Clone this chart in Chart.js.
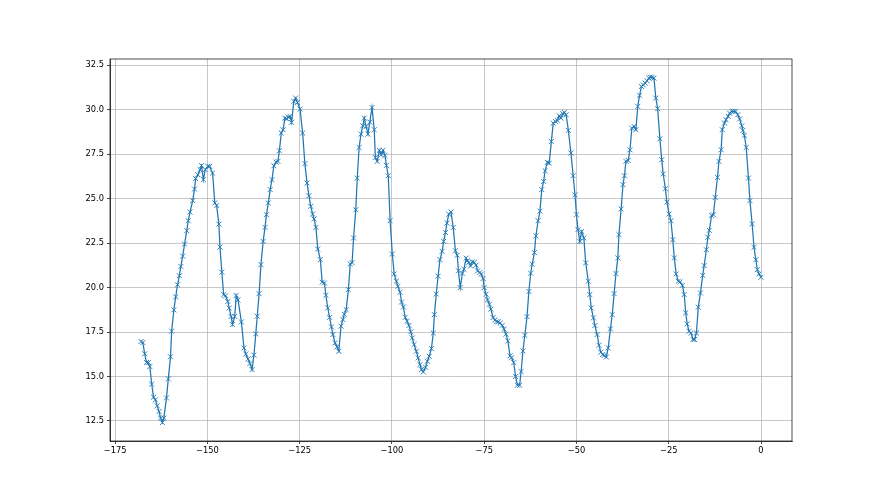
<!DOCTYPE html>
<html>
<head>
<meta charset="utf-8">
<script src="https://cdn.jsdelivr.net/npm/chart.js@4.4.1/dist/chart.umd.min.js"></script>
<style>
  html, body { margin: 0; padding: 0; background: #fff; }
  canvas { display: block; }
</style>
</head>
<body>
<canvas id="tempChart" width="880" height="495"></canvas>
<script>
// readings (hours before now, value)
const xValues = [
  -168.0, -167.5, -167.0, -166.5, -166.0, -165.6, -165.1, -164.6, -164.1, -163.6,
  -163.1, -162.7, -162.2, -161.8, -161.1, -160.6, -160.0, -159.7, -159.1, -158.6,
  -158.1, -157.6, -157.2, -156.7, -156.2, -155.6, -155.2, -154.7, -154.0, -153.5,
  -153.2, -152.6, -152.0, -151.6, -151.1, -150.6, -149.9, -149.4, -148.6, -148.0,
  -147.5, -146.9, -146.6, -146.1, -145.6, -145.1, -144.5, -144.1, -143.6, -143.2,
  -142.6, -142.2, -141.7, -140.8, -140.1, -139.6, -139.0, -138.5, -137.9, -137.4,
  -136.9, -136.5, -136.0, -135.5, -134.9, -134.4, -134.0, -133.5, -133.0, -132.5,
  -132.0, -131.4, -130.9, -130.5, -130.0, -129.5, -129.0, -128.5, -128.1, -127.6,
  -127.2, -126.6, -126.1, -125.6, -124.9, -124.2, -123.6, -123.0, -122.5, -122.0,
  -121.5, -121.1, -120.6, -120.1, -119.4, -118.9, -118.3, -117.9, -117.4, -116.9,
  -116.4, -116.0, -115.4, -114.9, -114.4, -113.8, -113.3, -112.9, -112.4, -111.8,
  -111.3, -110.8, -110.4, -109.8, -109.4, -108.9, -108.4, -107.9, -107.5, -107.0,
  -106.5, -106.0, -105.4, -104.8, -104.5, -104.0, -103.4, -102.9, -102.4, -101.9,
  -101.5, -101.0, -100.5, -99.9, -99.4, -98.8, -98.4, -97.8, -97.4, -96.9,
  -96.4, -95.9, -95.4, -94.9, -94.5, -94.0, -93.4, -92.9, -92.4, -92.0,
  -91.5, -90.9, -90.4, -89.9, -89.3, -88.8, -88.5, -88.0, -87.5, -87.0,
  -86.4, -86.0, -85.5, -85.1, -84.6, -84.0, -83.4, -82.8, -82.3, -82.0,
  -81.5, -80.9, -80.5, -79.9, -79.6, -79.2, -78.7, -78.2, -77.7, -77.2,
  -76.8, -76.2, -75.8, -75.3, -75.0, -74.5, -74.1, -73.6, -73.2, -72.6,
  -72.1, -71.6, -71.2, -70.7, -70.1, -69.6, -69.1, -68.6, -68.0, -67.6,
  -67.0, -66.5, -66.0, -65.4, -65.0, -64.5, -64.0, -63.4, -62.9, -62.4,
  -62.0, -61.4, -61.0, -60.4, -59.9, -59.4, -58.9, -58.5, -57.9, -57.4,
  -56.8, -56.3, -55.7, -55.2, -54.7, -54.2, -53.7, -53.3, -52.8, -52.2,
  -51.5, -50.9, -50.4, -50.0, -49.6, -49.1, -48.6, -48.0, -47.5, -46.8,
  -46.4, -46.0, -45.4, -45.0, -44.4, -43.9, -43.4, -42.9, -42.5, -41.9,
  -41.4, -40.8, -40.3, -39.8, -39.3, -38.8, -38.5, -37.9, -37.4, -37.0,
  -36.6, -36.0, -35.5, -35.0, -34.4, -33.9, -33.4, -32.9, -32.4, -31.9,
  -31.4, -30.9, -30.4, -30.0, -29.5, -29.0, -28.5, -28.0, -27.4, -26.9,
  -26.5, -25.9, -25.5, -24.9, -24.4, -23.9, -23.5, -23.0, -22.4, -21.9,
  -21.3, -20.8, -20.4, -20.0, -19.5, -19.0, -18.4, -18.0, -17.5, -17.0,
  -16.4, -15.8, -15.4, -14.8, -14.4, -14.0, -13.4, -12.9, -12.4, -11.8,
  -11.4, -10.8, -10.5, -9.9, -9.5, -8.9, -8.5, -7.9, -7.4, -6.9,
  -6.3, -5.8, -5.2, -4.9, -4.5, -4.0, -3.4, -3.0, -2.4, -1.9,
  -1.4, -1.0, -0.5, 0.0
];
const yValues = [
  16.97, 16.91, 16.28, 15.79, 15.79, 15.56, 14.57, 13.84, 13.69, 13.35,
  13.03, 12.66, 12.41, 12.66, 13.80, 14.87, 16.11, 17.55, 18.75, 19.48,
  20.16, 20.67, 21.19, 21.77, 22.45, 23.20, 23.76, 24.25, 24.89, 25.54,
  26.13, 26.35, 26.63, 26.86, 26.07, 26.63, 26.82, 26.82, 26.44, 24.76,
  24.61, 23.57, 22.28, 20.87, 19.60, 19.54, 19.22, 18.85, 18.38, 17.93,
  18.38, 19.56, 19.31, 18.07, 16.61, 16.27, 15.99, 15.73, 15.39, 16.20,
  17.40, 18.39, 19.66, 21.29, 22.60, 23.39, 24.10, 24.76, 25.51, 26.07,
  26.85, 27.06, 27.10, 27.70, 28.69, 28.88, 29.53, 29.49, 29.59, 29.63,
  29.29, 30.47, 30.66, 30.41, 30.04, 28.69, 26.97, 25.88, 25.17, 24.57,
  24.14, 23.86, 23.39, 22.17, 21.57, 20.30, 20.26, 19.57, 18.86, 18.33,
  17.79, 17.36, 16.89, 16.67, 16.42, 17.83, 18.20, 18.50, 18.76, 19.89,
  21.33, 21.40, 22.79, 24.38, 26.16, 27.88, 28.63, 29.10, 29.53, 29.06,
  28.63, 29.31, 30.13, 28.88, 27.32, 27.10, 27.72, 27.47, 27.72, 27.43,
  26.87, 26.29, 23.76, 21.89, 20.77, 20.36, 20.07, 19.74, 19.19, 18.91,
  18.33, 18.11, 17.87, 17.51, 17.17, 16.80, 16.42, 16.05, 15.67, 15.39,
  15.26, 15.52, 15.86, 16.14, 16.57, 17.45, 18.48, 19.64, 20.64, 21.57,
  22.04, 22.60, 23.10, 23.63, 24.13, 24.26, 23.38, 22.07, 21.82, 20.94,
  20.00, 20.81, 21.04, 21.66, 21.51, 21.41, 21.22, 21.45, 21.41, 21.26,
  20.94, 20.85, 20.76, 20.51, 20.00, 19.63, 19.31, 19.07, 18.79, 18.32,
  18.18, 18.09, 18.07, 18.00, 17.88, 17.66, 17.38, 17.00, 16.16, 16.06,
  15.78, 15.00, 14.51, 14.51, 15.28, 16.44, 17.32, 18.37, 19.78, 20.81,
  21.32, 21.97, 22.91, 23.76, 24.30, 25.51, 25.97, 26.57, 27.04, 27.00,
  28.22, 29.25, 29.34, 29.40, 29.66, 29.53, 29.78, 29.85, 29.72, 28.84,
  27.57, 26.29, 25.22, 24.10, 23.26, 22.60, 23.16, 22.79, 21.39, 20.36,
  19.61, 18.86, 18.30, 17.87, 17.36, 16.76, 16.37, 16.24, 16.18, 16.10,
  16.61, 17.68, 18.48, 19.66, 20.79, 21.67, 22.98, 24.42, 25.79, 26.29,
  27.10, 27.15, 27.75, 28.97, 29.06, 28.88, 30.19, 30.81, 31.31, 31.40,
  31.50, 31.63, 31.78, 31.84, 31.82, 31.78, 30.66, 30.06, 28.37, 27.19,
  26.39, 25.56, 24.81, 24.14, 23.76, 22.70, 21.67, 20.77, 20.36, 20.32,
  20.13, 19.61, 18.58, 17.96, 17.55, 17.45, 17.08, 17.08, 17.45, 18.90,
  19.70, 20.69, 21.24, 22.13, 22.83, 23.22, 24.06, 24.10, 25.07, 26.20,
  27.10, 27.75, 28.88, 29.25, 29.44, 29.63, 29.81, 29.91, 29.91, 29.91,
  29.72, 29.48, 29.10, 28.84, 28.56, 27.88, 26.16, 24.89, 23.58, 22.27,
  21.57, 21.01, 20.77, 20.58
];
const xTicks = [-175, -150, -125, -100, -75, -50, -25, 0];
const yTicks = [12.5, 15, 17.5, 20, 22.5, 25, 27.5, 30, 32.5];

const lineColor = '#1f77b4';
const tickFont = { family: "'DejaVu Sans', sans-serif", size: 8.3 };
const minus = v => String(v).replace('-', '\u2212');

// matplotlib style box around the axes
const framePlugin = {
    id: 'frame',
    afterDatasetsDraw(chart) {
        const { ctx, chartArea: a } = chart;
        ctx.save();
        ctx.strokeStyle = '#000';
        ctx.lineWidth = 0.7;
        ctx.strokeRect(a.left, a.top, a.right - a.left, a.bottom - a.top);
        ctx.restore();
    }
};

const points = xValues.map((x, i) => ({ x: x, y: yValues[i] }));

new Chart(document.getElementById('tempChart'), {
    type: 'scatter',
    data: {
        datasets: [{
            data: points,
            showLine: true,
            borderColor: lineColor,
            borderWidth: 1.25,
            tension: 0,
            pointStyle: 'crossRot',
            pointRadius: 3.5,
            pointHoverRadius: 3.5,
            pointBorderWidth: 0.9,
            pointBorderColor: lineColor,
            pointBackgroundColor: lineColor
        }]
    },
    options: {
        responsive: false,
        animation: false,
        devicePixelRatio: 1,
        layout: { padding: { top: 59, right: 88, left: 0, bottom: 0 } },
        plugins: {
            legend: { display: false },
            tooltip: { enabled: false }
        },
        scales: {
            x: {
                type: 'linear',
                min: -176.4,
                max: 8.4,
                afterBuildTicks: s => { s.ticks = xTicks.map(v => ({ value: v })); },
                afterFit: s => { s.height = 54; },
                grid: { color: '#b0b0b0', lineWidth: 0.7, tickLength: 3, tickColor: '#000', tickWidth: 0.7 },
                border: { color: '#000', width: 0.7 },
                ticks: { color: '#000', font: tickFont, padding: 2, maxRotation: 0, callback: v => minus(v) }
            },
            y: {
                type: 'linear',
                min: 11.375,
                max: 32.855,
                afterBuildTicks: s => { s.ticks = yTicks.map(v => ({ value: v })); },
                afterFit: s => { s.width = 110; },
                grid: { color: '#b0b0b0', lineWidth: 0.7, tickLength: 3, tickColor: '#000', tickWidth: 0.7 },
                border: { color: '#000', width: 0.7 },
                ticks: { color: '#000', font: tickFont, padding: 3, callback: v => v.toFixed(1) }
            }
        }
    },
    plugins: [framePlugin]
});
</script>
</body>
</html>
